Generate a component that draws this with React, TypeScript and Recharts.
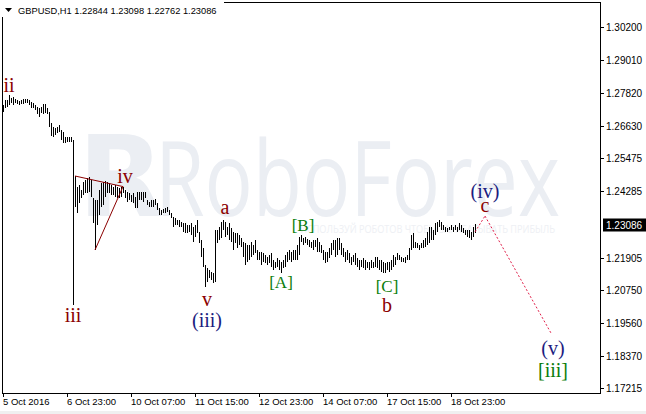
import React from "react";
import {
  ComposedChart,
  Bar,
  XAxis,
  YAxis,
  ReferenceLine,
  ReferenceDot,
} from "recharts";

// GBPUSD H1 bars, one per hour (high / low only)
const highs = [
  1.2739, 1.2757, 1.2757, 1.2775, 1.2765, 1.2768, 1.2761, 1.2757, 1.2754, 1.2757, 1.2761, 1.2761,
  1.2761, 1.2757, 1.275, 1.2747, 1.2739, 1.2732, 1.2729, 1.2732, 1.2743, 1.2743, 1.2729, 1.2714,
  1.2675, 1.266, 1.2657, 1.266, 1.2667, 1.2649, 1.2642, 1.2624, 1.2624, 1.2624, 1.2624, 1.2613,
  1.2484, 1.2444, 1.2451, 1.2433, 1.2462, 1.2469, 1.2476, 1.248, 1.2469, 1.2404, 1.2397, 1.2397,
  1.2433, 1.2458, 1.2462, 1.2466, 1.2462, 1.2458, 1.2451, 1.2444, 1.2451, 1.2444, 1.244, 1.2444,
  1.2444, 1.2433, 1.2426, 1.2422, 1.2415, 1.2422, 1.2408, 1.2426, 1.2426, 1.2426, 1.2426, 1.2426,
  1.2397, 1.239, 1.2397, 1.2397, 1.2401, 1.2386, 1.2368, 1.2361, 1.2365, 1.2368, 1.2372, 1.2361,
  1.235, 1.2336, 1.2332, 1.2325, 1.2325, 1.2318, 1.2314, 1.2314, 1.2307, 1.2307,
  1.2314, 1.23, 1.2307, 1.2325, 1.2282, 1.2253, 1.2224, 1.2163, 1.2152, 1.2145, 1.2138, 1.2134,
  1.2289, 1.2289, 1.23, 1.2318, 1.2325, 1.2318, 1.23, 1.2314, 1.2296, 1.2282, 1.2278, 1.2278,
  1.2271, 1.226, 1.2246, 1.2242, 1.2235, 1.2235, 1.2246, 1.2235, 1.2253, 1.2217, 1.221, 1.221,
  1.2206, 1.2199, 1.2192, 1.2199, 1.2206, 1.2181, 1.2174, 1.2188, 1.2181, 1.2174, 1.2181, 1.2199,
  1.221, 1.2217, 1.221, 1.2217, 1.2217, 1.2235, 1.2264, 1.2271, 1.226, 1.2264, 1.2257, 1.2253,
  1.2246, 1.2253, 1.2253, 1.226, 1.2246, 1.2235, 1.2217, 1.221, 1.221, 1.2224, 1.2242, 1.2253,
  1.2253, 1.226, 1.226, 1.2242, 1.2224, 1.221, 1.2217, 1.2206, 1.2192, 1.2199, 1.2206, 1.2188,
  1.2181, 1.2181, 1.2188, 1.2181, 1.2174, 1.2174, 1.2181, 1.2174, 1.2192, 1.2192, 1.2181, 1.2181,
  1.2174, 1.217, 1.2174, 1.2174, 1.2181, 1.2199, 1.2192, 1.2206,
  1.2199, 1.2192, 1.2188, 1.2192, 1.2199, 1.2224, 1.2271, 1.2278, 1.2246, 1.2242, 1.2235, 1.2242,
  1.2253, 1.226, 1.2282, 1.23, 1.23, 1.2289, 1.2314, 1.2318, 1.2325, 1.2318, 1.2307, 1.23,
  1.2296, 1.23, 1.2307, 1.23, 1.2307, 1.23, 1.2314, 1.2307, 1.2296, 1.2289, 1.2289, 1.2289,
  1.2282, 1.23, 1.23098,
];

const lows = [
  1.2714, 1.2729, 1.2732, 1.2739, 1.2747, 1.2739, 1.2747, 1.2743, 1.2739, 1.2743, 1.2743, 1.2747,
  1.2747, 1.2739, 1.2729, 1.2729, 1.2721, 1.2707, 1.2696, 1.2711, 1.2707, 1.2711, 1.2707, 1.266,
  1.2628, 1.2624, 1.2631, 1.2639, 1.2642, 1.2613, 1.2603, 1.2603, 1.2606, 1.2606, 1.2606, 1.202,
  1.2372, 1.235, 1.2386, 1.2404, 1.2415, 1.2422, 1.2422, 1.2426, 1.2408, 1.2314, 1.2217, 1.2307,
  1.2343, 1.2372, 1.2379, 1.2408, 1.2422, 1.2422, 1.2415, 1.2415, 1.2408, 1.2404, 1.2404, 1.2408,
  1.2422, 1.2404, 1.239, 1.2397, 1.239, 1.2386, 1.2368, 1.2368, 1.2397, 1.2397, 1.239, 1.2404,
  1.2379, 1.2372, 1.2372, 1.2372, 1.2379, 1.2361, 1.2343, 1.2343, 1.235, 1.235, 1.2354, 1.2343,
  1.2332, 1.23, 1.2307, 1.2307, 1.23, 1.23, 1.2282, 1.2278, 1.2278, 1.2282,
  1.2271, 1.2246, 1.2264, 1.2278, 1.2242, 1.2192, 1.2156, 1.2084, 1.2102, 1.2116, 1.2109, 1.2098,
  1.2102, 1.2242, 1.2253, 1.226, 1.2289, 1.2264, 1.2271, 1.2253, 1.2246, 1.2217, 1.2242, 1.2224,
  1.2235, 1.2228, 1.2192, 1.2163, 1.2174, 1.2181, 1.2192, 1.2199, 1.2206, 1.2181, 1.2181, 1.2163,
  1.2174, 1.217, 1.2163, 1.217, 1.2156, 1.2145, 1.2152, 1.2156, 1.2145, 1.2134, 1.2152, 1.2156,
  1.2174, 1.2181, 1.2174, 1.2181, 1.2181, 1.2181, 1.2199, 1.2246, 1.2235, 1.2242, 1.2235, 1.2228,
  1.2224, 1.2217, 1.2228, 1.221, 1.221, 1.2206, 1.2181, 1.217, 1.2174, 1.2188, 1.2199, 1.2217,
  1.2192, 1.2199, 1.2217, 1.2199, 1.2192, 1.2174, 1.2181, 1.217, 1.2163, 1.2174, 1.2163, 1.2156,
  1.2145, 1.2156, 1.2152, 1.2145, 1.2152, 1.2145, 1.2152, 1.2152, 1.2156, 1.2152, 1.2145, 1.2138,
  1.2134, 1.2134, 1.2145, 1.2138, 1.2145, 1.2156, 1.2163, 1.2181,
  1.2181, 1.2174, 1.2174, 1.217, 1.2181, 1.2181, 1.2217, 1.2224, 1.2224, 1.2224, 1.2217, 1.2224,
  1.2224, 1.2228, 1.2235, 1.2242, 1.2253, 1.2253, 1.2271, 1.2282, 1.23, 1.2289, 1.2289, 1.2282,
  1.2282, 1.2289, 1.2289, 1.2282, 1.2289, 1.2282, 1.2289, 1.2282, 1.2278, 1.2271, 1.2264, 1.226,
  1.2253, 1.2264, 1.22762,
];

// empty hourly slots to the right of the last bar
const totalSlots = 299;

// time axis labels (bar index -> text)
const timeTickIdx = [0, 32, 64, 96, 128, 160, 192, 224];
const timeTickText = [
  "5 Oct 2016",
  "6 Oct 23:00",
  "10 Oct 07:00",
  "11 Oct 15:00",
  "12 Oct 23:00",
  "14 Oct 07:00",
  "17 Oct 15:00",
  "18 Oct 23:00",
];

// price scale labels
const priceTicks = [
  1.302, 1.2901, 1.2782, 1.2663, 1.25475, 1.24285, 1.23086, 1.21905, 1.2075, 1.1956, 1.1837,
  1.17215,
];
const lastPrice = 1.23086;
const header = "GBPUSD,H1  1.22844 1.23098 1.22762 1.23086";

// Elliott wave marks (bar index, price)
const waveText = ["ii", "iii", "iv", "v", "(iii)", "a", "[A]", "[B]", "[C]", "b", "(iv)", "c", "(v)", "[iii]"];
const waveIdx = [3, 35, 61, 102, 102, 111, 139, 150, 192, 192, 241, 241, 275, 275];
const wavePrice = [1.2786, 1.1959, 1.2458, 1.2016, 1.1941, 1.2347, 1.2081, 1.2286, 1.2067, 1.1995, 1.2405, 1.2355, 1.184, 1.1761];

// triangle in wave iv
const triIdx = [36, 60, 46];
const triPrice = [1.2484, 1.2446, 1.2218];

// projected path c -> (v)
const pathIdx = [236, 241, 274];
const pathPrice = [1.2283, 1.234, 1.1919];

const data = Array.from({ length: totalSlots }, (_, i) => ({
  i,
  hl: i < highs.length ? [lows[i], highs[i]] : null,
}));

const axisFont = "'Liberation Sans', Arial, sans-serif";
const waveFont = "'Liberation Serif', 'Times New Roman', serif";

const HLBar = (props: any) => {
  const { x, y, width, height } = props;
  if (x == null || y == null) return null;
  const cx = Math.floor(x + width / 2);
  return (
    <rect
      x={cx}
      y={Math.round(y)}
      width={1}
      height={Math.max(1, Math.round(height))}
      fill="#000"
    />
  );
};

const TimeTick = (props: any) => {
  const { x, y, payload } = props;
  const k = timeTickIdx.indexOf(payload.value);
  const px = Math.floor(x) + 0.5;
  return (
    <g>
      <line x1={px} y1={y} x2={px} y2={y + 4} stroke="#000" />
      <text x={Math.floor(x)} y={y + 12} fontSize={9.5} fontFamily={axisFont} fill="#000">
        {k >= 0 ? timeTickText[k] : ""}
      </text>
    </g>
  );
};

const PriceTick = (props: any) => {
  const { x, y, payload } = props;
  const v = payload.value as number;
  const py = Math.round(y) + 0.5;
  if (v === lastPrice) {
    return (
      <g>
        <rect x={x + 3} y={py - 7} width={43} height={13} fill="#000" />
        <text x={x + 6} y={py + 3.5} fontSize={10} fontFamily={axisFont} fill="#fff">
          {v.toFixed(5)}
        </text>
      </g>
    );
  }
  return (
    <g>
      <line x1={x} y1={py} x2={x + 4} y2={py} stroke="#000" />
      <text x={x + 6} y={py + 3.5} fontSize={10} fontFamily={axisFont} fill="#000">
        {v.toFixed(5)}
      </text>
    </g>
  );
};

const waveColor = (t: string) =>
  t.startsWith("(") ? "#1c1c80" : t.startsWith("[") ? "#0b7d0b" : "#8b0000";

const WaveLabel = (text: string) => (props: any) => {
  const { cx, cy } = props;
  const upper = /[A-C]/.test(text);
  return (
    <text
      x={cx}
      y={cy}
      textAnchor="middle"
      fontSize={upper ? 17 : 20}
      fontFamily={waveFont}
      fill={waveColor(text)}
    >
      {text}
    </text>
  );
};

export default function App() {
  return (
    <div
      style={{
        position: "absolute",
        left: 0,
        top: 0,
        width: 646,
        height: 414,
        background: "#fff",
        overflow: "hidden",
      }}
    >
      {/* watermark */}
      <svg width={646} height={414} style={{ position: "absolute", left: 0, top: 0 }}>
        <text
          x={78}
          y={216}
          fontSize={112}
          fontWeight="bold"
          fontFamily="'DejaVu Sans', sans-serif"
          fill="#ebeef3"
        >
          R
        </text>
        <text
          x={155}
          y={216}
          fontSize={104}
          fontFamily="'Open Sans', sans-serif"
          fill="#ebeef3"
          textLength={405}
          lengthAdjust="spacingAndGlyphs"
        >
          RoboForex
        </text>
        <text
          x={300}
          y={233}
          fontSize={10}
          fontFamily="'Open Sans', sans-serif"
          fill="#eef0f4"
          textLength={255}
          lengthAdjust="spacingAndGlyphs"
        >
          ИСПОЛЬЗУЙ РОБОТОВ ЧТОБЫ ЗАРАБАТЫВАТЬ ПРИБЫЛЬ
        </text>
      </svg>

      <div style={{ position: "absolute", left: 0, top: 0 }}>
        <ComposedChart
          width={646}
          height={414}
          data={data}
          margin={{ top: 3, right: 0, bottom: 0, left: 2 }}
          barCategoryGap={0}
        >
          <XAxis
            dataKey="i"
            type="category"
            ticks={timeTickIdx}
            interval={0}
            tick={<TimeTick />}
            tickSize={0}
            tickMargin={0}
            axisLine={false}
            tickLine={false}
            height={21}
          />
          <YAxis
            orientation="right"
            type="number"
            domain={[1.17035, 1.31063]}
            allowDataOverflow
            ticks={priceTicks}
            interval={0}
            tick={<PriceTick />}
            tickSize={0}
            tickMargin={0}
            axisLine={false}
            tickLine={false}
            width={46}
          />
          <Bar dataKey="hl" shape={<HLBar />} isAnimationActive={false} />

          <ReferenceLine
            segment={[
              { x: triIdx[0], y: triPrice[0] },
              { x: triIdx[1], y: triPrice[1] },
            ]}
            stroke="#8b0000"
            ifOverflow="visible"
          />
          <ReferenceLine
            segment={[
              { x: triIdx[2], y: triPrice[2] },
              { x: triIdx[1], y: triPrice[1] },
            ]}
            stroke="#8b0000"
            ifOverflow="visible"
          />
          <ReferenceLine
            segment={[
              { x: pathIdx[0], y: pathPrice[0] },
              { x: pathIdx[1], y: pathPrice[1] },
            ]}
            stroke="#e0204a"
            strokeDasharray="2 2"
            ifOverflow="visible"
          />
          <ReferenceLine
            segment={[
              { x: pathIdx[1], y: pathPrice[1] },
              { x: pathIdx[2], y: pathPrice[2] },
            ]}
            stroke="#e0204a"
            strokeDasharray="2 2"
            ifOverflow="visible"
          />

          {waveText.map((t, k) => (
            <ReferenceDot
              key={t + k}
              x={waveIdx[k]}
              y={wavePrice[k]}
              r={0}
              ifOverflow="visible"
              shape={WaveLabel(t)}
            />
          ))}
        </ComposedChart>
      </div>

      {/* chart frame, header, status strip */}
      <svg
        width={646}
        height={414}
        style={{ position: "absolute", left: 0, top: 0, pointerEvents: "none" }}
      >
        <rect x={2.5} y={2.5} width={598} height={391} fill="none" stroke="#000" />
        <rect x={0} y={0} width={224} height={17} fill="#fff" />
        <path d="M5 8 L12 8 L8.5 12 Z" fill="#000" />
        <text x={18} y={14} fontSize={9.3} fontFamily={axisFont} fill="#000">
          {header}
        </text>
        <rect x={0} y={411} width={646} height={3} fill="#f0f0f0" />
      </svg>
    </div>
  );
}
